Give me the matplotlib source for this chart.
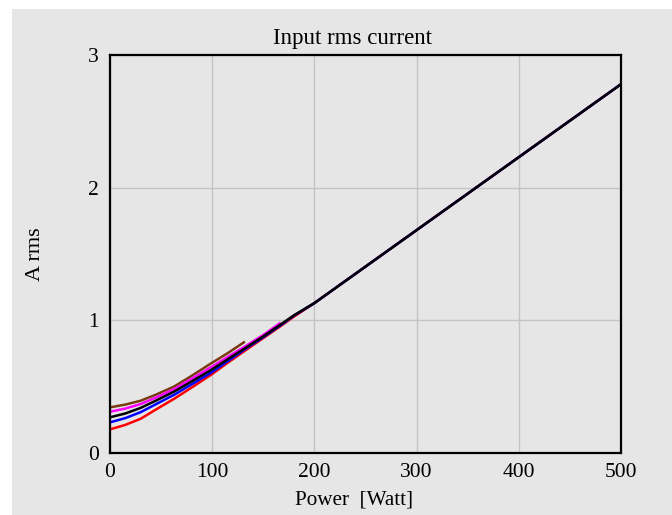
import matplotlib
matplotlib.use("Agg")
import matplotlib.pyplot as plt
from matplotlib.patches import Rectangle

plt.rcParams['font.family'] = ['Liberation Serif', 'DejaVu Serif']

# Data (Power in W, current in A rms)
red_w = [0, 15, 30, 45, 63, 80, 99, 115, 132, 150, 165, 180, 200, 250, 300, 350, 400, 450, 500]
red_a = [0.178, 0.212, 0.258, 0.328, 0.410, 0.494, 0.590, 0.679, 0.771, 0.866, 0.946, 1.028, 1.13, 1.405, 1.68, 1.955, 2.23, 2.505, 2.78]

blue_w = [0, 15, 30, 45, 63, 80, 99, 115, 132, 150, 165, 180, 200, 250, 300, 350, 400, 450, 500]
blue_a = [0.231, 0.263, 0.308, 0.368, 0.440, 0.518, 0.606, 0.691, 0.782, 0.873, 0.953, 1.035, 1.13, 1.405, 1.68, 1.955, 2.23, 2.505, 2.78]

black_w = [0, 15, 30, 45, 63, 80, 99, 115, 132, 150, 165, 180, 200, 250, 300, 350, 400, 450, 500]
black_a = [0.269, 0.298, 0.340, 0.395, 0.464, 0.540, 0.626, 0.706, 0.789, 0.879, 0.958, 1.038, 1.13, 1.405, 1.68, 1.955, 2.23, 2.505, 2.78]

magenta_w = [0, 15, 30, 45, 63, 80, 99, 115, 132, 150, 166]
magenta_a = [0.311, 0.335, 0.369, 0.418, 0.482, 0.560, 0.648, 0.724, 0.803, 0.890, 0.977]

brown_w = [0, 15, 30, 45, 63, 80, 99, 115, 131]
brown_a = [0.344, 0.365, 0.394, 0.440, 0.502, 0.582, 0.676, 0.752, 0.834]

x_ticks = [0, 100, 200, 300, 400, 500]
y_ticks = [0, 1, 2, 3]

W, H = 672, 515
fig = plt.figure(figsize=(W / 100, H / 100), dpi=100, facecolor='white')
bg = '#e6e6e6'
fig.patches.append(Rectangle((12 / W, 0), 1, (H - 9) / H, transform=fig.transFigure,
                             facecolor=bg, edgecolor='none', zorder=-10))

ax = fig.add_axes([110 / W, 1 - 453 / H, (621 - 110) / W, (453 - 55) / H])
ax.set_facecolor(bg)

lw = 1.8
ax.plot(brown_w, brown_a, color='#7a3a10', lw=lw)
ax.plot(magenta_w, magenta_a, color='#ff00ff', lw=lw)
ax.plot(red_w, red_a, color='#ff0000', lw=lw)
ax.plot(blue_w, blue_a, color='#0000ff', lw=lw)
ax.plot(black_w, black_a, color='black', lw=lw)

ax.set_xlim(0, 500)
ax.set_ylim(0, 3)
ax.set_xticks(x_ticks)
ax.set_yticks(y_ticks)
ax.tick_params(length=0, labelsize=15.5)
ax.tick_params(axis='x', pad=7)
ax.tick_params(axis='y', pad=8)
ax.grid(True, color='#c4c4c4', lw=1)
ax.set_axisbelow(True)
for s in ax.spines.values():
    s.set_color('black')
    s.set_linewidth(1.6)

ax.set_title('Input rms current', fontsize=16.5, pad=8, x=0.4736)
ax.set_xlabel('Power  [Watt]', fontsize=15.2)
ax.xaxis.set_label_coords(0.4775, -0.095)
ax.set_ylabel('A rms', fontsize=16, labelpad=31)

fig.savefig('out.png', dpi=100, facecolor='white')
